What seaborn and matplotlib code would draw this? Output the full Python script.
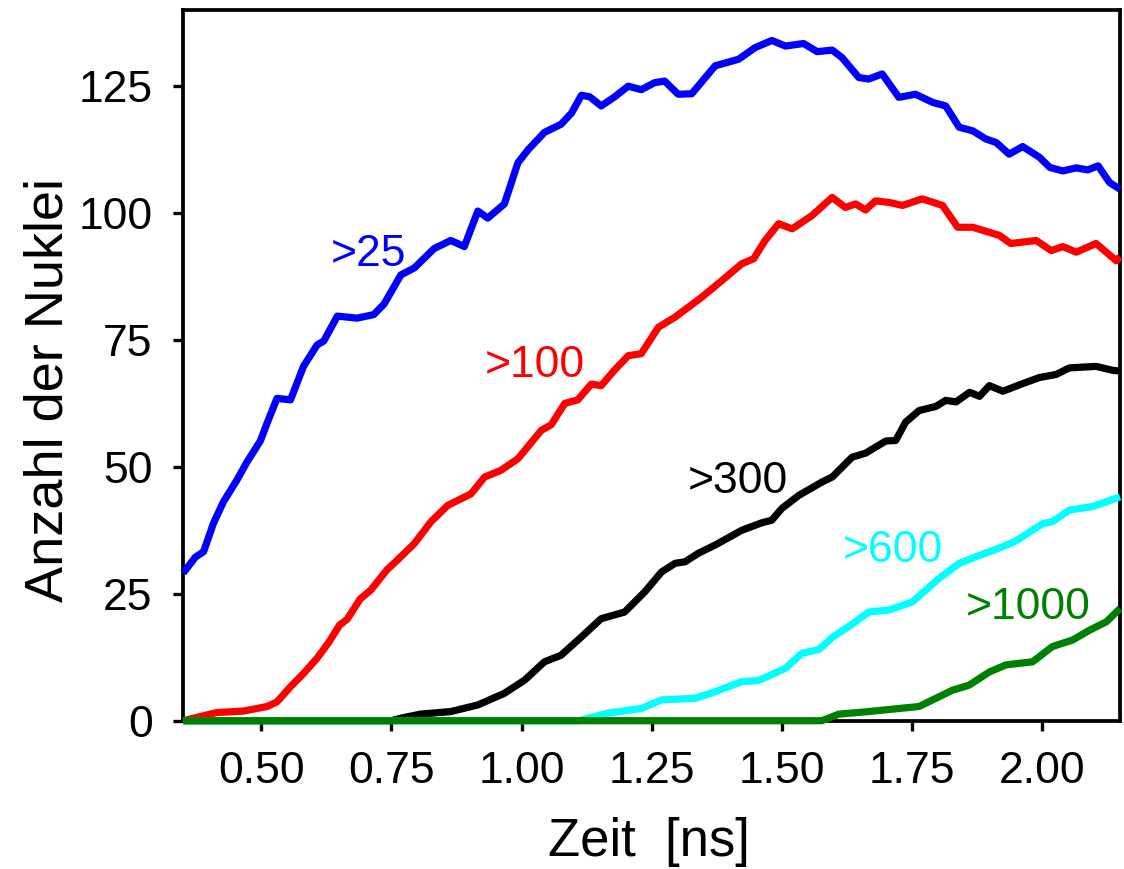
import numpy as np
import pandas as pd
import matplotlib
matplotlib.use("Agg")
import matplotlib.pyplot as plt
import seaborn as sns

# ---- data ----
x_25 = [0.35, 0.373, 0.389, 0.408, 0.427, 0.453, 0.472, 0.498, 0.511, 0.53, 0.556, 0.581, 0.607, 0.62,
        0.646, 0.684, 0.716, 0.736, 0.768, 0.794, 0.832, 0.864, 0.89, 0.916, 0.935, 0.967, 0.993, 1.012,
        1.044, 1.076, 1.096, 1.115, 1.131, 1.153, 1.179, 1.205, 1.23, 1.256, 1.275, 1.301, 1.327, 1.372,
        1.417, 1.449, 1.481, 1.507, 1.542, 1.568, 1.597, 1.616, 1.648, 1.667, 1.693, 1.725, 1.757, 1.79,
        1.815, 1.841, 1.867, 1.892, 1.912, 1.937, 1.963, 1.995, 2.015, 2.04, 2.066, 2.088, 2.108, 2.13, 2.15]
y_25 = [29.1, 32.2, 33.3, 38.9, 43.1, 47.4, 50.9, 55.1, 58.6, 63.5, 63.2, 69.8, 74.0, 74.8,
        79.7, 79.3, 80.0, 82.1, 87.8, 89.2, 93.0, 94.6, 93.4, 100.4, 99.0, 101.8, 109.9, 112.4,
        115.9, 117.5, 119.7, 123.2, 122.9, 121.1, 122.9, 125.0, 124.3, 125.7, 126.0, 123.4, 123.5, 129.0,
        130.3, 132.6, 134.0, 132.9, 133.4, 131.8, 132.1, 130.6, 126.7, 126.4, 127.4, 122.8, 123.4, 121.8,
        121.1, 116.9, 116.2, 114.6, 113.9, 111.6, 113.1, 111.0, 109.0, 108.3, 108.9, 108.5, 109.3, 106.0, 104.7]

x_100 = [0.35, 0.414, 0.466, 0.511, 0.53, 0.556, 0.581, 0.607, 0.63, 0.65, 0.665, 0.69, 0.71, 0.742,
         0.761, 0.794, 0.826, 0.858, 0.903, 0.929, 0.96, 0.993, 1.038, 1.057, 1.083, 1.108, 1.134, 1.153,
         1.179, 1.205, 1.23, 1.263, 1.295, 1.346, 1.385, 1.423, 1.446, 1.468, 1.494, 1.52, 1.558, 1.597,
         1.622, 1.642, 1.661, 1.68, 1.706, 1.732, 1.77, 1.809, 1.838, 1.867, 1.899, 1.918, 1.94, 1.989,
         2.018, 2.04, 2.066, 2.104, 2.143, 2.15]
y_100 = [0, 1.6, 1.9, 2.8, 3.7, 6.7, 9.3, 12.3, 15.5, 18.8, 20.0, 24.0, 25.7, 29.8,
         31.6, 34.9, 39.2, 42.4, 44.7, 48.0, 49.3, 51.6, 57.2, 58.3, 62.5, 63.2, 66.3, 66.0,
         69.1, 71.9, 72.3, 77.5, 79.5, 83.4, 86.7, 90.0, 91.0, 94.6, 97.9, 96.9, 99.5, 103.1,
         101.1, 101.8, 100.6, 102.4, 102.1, 101.5, 102.8, 101.5, 97.2, 97.2, 96.2, 95.6, 94.0, 94.6,
         92.6, 93.4, 92.3, 94.0, 90.6, 91.4]

x_300 = [0.35, 0.75, 0.768, 0.806, 0.864, 0.916, 0.967, 1.006, 1.044, 1.076, 1.115, 1.153, 1.198,
         1.237, 1.269, 1.295, 1.314, 1.34, 1.372, 1.423, 1.462, 1.481, 1.5, 1.533, 1.577, 1.597, 1.635,
         1.661, 1.70, 1.719, 1.738, 1.764, 1.796, 1.815, 1.835, 1.861, 1.88, 1.899, 1.925, 1.963, 1.995,
         2.027, 2.053, 2.104, 2.137, 2.15]
y_300 = [0, 0, 0.5, 1.3, 1.8, 3.1, 5.4, 8.0, 11.6, 12.9, 16.5, 20.1, 21.4,
         25.4, 29.3, 31.0, 31.3, 33.0, 34.6, 37.5, 39.0, 39.5, 41.8, 44.4, 47.0, 48.0, 51.9,
         52.7, 55.1, 55.2, 58.8, 61.1, 61.9, 63.1, 62.8, 64.7, 63.9, 66.0, 64.9, 66.4, 67.6,
         68.2, 69.5, 69.8, 69.0, 68.9]

x_600 = [0.35, 1.11, 1.166, 1.23, 1.269, 1.333, 1.372, 1.423, 1.455, 1.507, 1.539, 1.571, 1.597,
         1.635, 1.667, 1.706, 1.751, 1.802, 1.841, 1.873, 1.918, 1.95, 2.001, 2.02, 2.053, 2.098, 2.15]
y_600 = [0, 0, 1.5, 2.4, 4.1, 4.4, 5.7, 7.7, 7.9, 10.3, 13.3, 14.0, 16.4,
         19.0, 21.4, 21.8, 23.4, 28.0, 31.0, 32.3, 34.0, 35.4, 38.8, 39.2, 41.5, 42.2, 44.1]

x_1000 = [0.35, 1.577, 1.61, 1.667, 1.725, 1.764, 1.796, 1.828, 1.86, 1.899, 1.931, 1.982, 2.02,
          2.059, 2.091, 2.124, 2.15]
y_1000 = [0, 0, 1.3, 1.8, 2.4, 2.8, 4.4, 6.0, 7.0, 9.6, 11.0, 11.6, 14.6,
          15.9, 17.8, 19.5, 22.1]

groups = [">25", ">100", ">300", ">600", ">1000"]
colors = ["#0000FF", "#FF0000", "#000000", "#00FFFF", "#008000"]
label_x = [0.633, 0.93, 1.32, 1.617, 1.853]
label_y = [89.5, 67.8, 44.8, 31.3, 20.1]

x_ticks = [0.50, 0.75, 1.00, 1.25, 1.50, 1.75, 2.00]
y_ticks = [0, 25, 50, 75, 100, 125]
x_label = "Zeit  [ns]"
y_label = "Anzahl der Nuklei"

# ---- build long table ----
series = [(x_25, y_25), (x_100, y_100), (x_300, y_300), (x_600, y_600), (x_1000, y_1000)]
frames = []
for g, (xs, ys) in zip(groups, series):
    frames.append(pd.DataFrame({"Zeit": xs, "Anzahl": ys, "Gruppe": g}))
df = pd.concat(frames, ignore_index=True)

sns.set_theme(style="white")
plt.rcParams["font.family"] = ["Liberation Sans", "DejaVu Sans"]

fig = plt.figure(figsize=(11.24, 8.69), dpi=100)
ax = fig.add_axes([183.3 / 1124, 1 - 720.7 / 869, (1120 - 183.3) / 1124, (720.7 - 10) / 869])

sns.lineplot(data=df, x="Zeit", y="Anzahl", hue="Gruppe", hue_order=groups,
             palette=dict(zip(groups, colors)), estimator=None, sort=False,
             legend=False, linewidth=5.2, ax=ax)
for ln in ax.lines:
    ln.set_clip_on(False)
    ln.set_zorder(3)
    ln.set_solid_capstyle("butt")
    ln.set_solid_joinstyle("round")

for g, c, lx, ly in zip(groups, colors, label_x, label_y):
    ax.text(lx, ly, g, color=c, fontsize=32, ha="left", va="baseline")

ax.set_xlim(0.35, 2.15)
ax.set_ylim(0, 140)
ax.set_xticks(x_ticks)
ax.set_xticklabels([f"{v:.2f}" for v in x_ticks])
ax.set_yticks(y_ticks)
ax.set_yticklabels([str(v) for v in y_ticks])

for sp in ax.spines.values():
    sp.set_visible(True)
    sp.set_color("black")
    sp.set_linewidth(2.7)

ax.tick_params(axis="both", which="major", direction="out", length=7, width=2.4,
               color="black", labelsize=32, labelcolor="black", pad=15)
ax.tick_params(top=False, right=False, bottom=True, left=True)

ax.set_xlabel(x_label, fontsize=38, color="black")
ax.set_ylabel(y_label, fontsize=39, color="black")
ax.xaxis.label.set_va("baseline")
ax.xaxis.set_label_coords(0.497, -0.1904)
ax.yaxis.label.set_va("center")
ax.yaxis.set_label_coords(-0.144, 0.465)

fig.savefig("out.png", dpi=100, facecolor="white")
